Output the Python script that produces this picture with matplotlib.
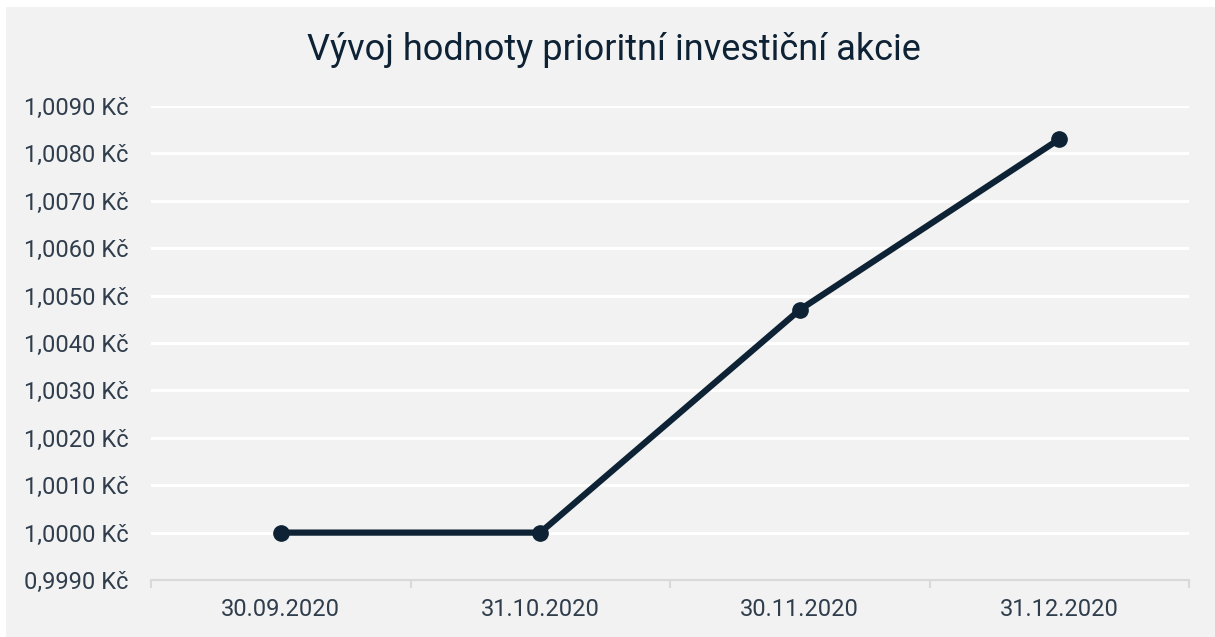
import matplotlib.pyplot as plt
from matplotlib.patches import Rectangle

dates = ['30.09.2020', '31.10.2020', '30.11.2020', '31.12.2020']
values = [1.0000, 1.0000, 1.0047, 1.0083]
y_ticks = [0.9990, 1.0000, 1.0010, 1.0020, 1.0030, 1.0040,
           1.0050, 1.0060, 1.0070, 1.0080, 1.0090]

W, H = 1215, 637
fig = plt.figure(figsize=(W / 100, H / 100), dpi=100)
fig.patch.set_facecolor('white')
# gray panel (white strip at top and left)
fig.patches.append(Rectangle((6 / W, 0), 1 - 6 / W, 1 - 7 / H,
                             transform=fig.transFigure, facecolor='#f2f2f2',
                             edgecolor='none', zorder=-5))

ax = fig.add_axes([151 / W, 1 - 580 / H, (1189 - 151) / W, (580 - 106) / H])
ax.set_facecolor('none')

dark = '#0e2235'
text_col = '#2f3d4c'

x = list(range(len(dates)))
ax.plot(x, values, color=dark, lw=4.5, marker='o', ms=11, zorder=3,
        solid_capstyle='round')

ax.set_xlim(-0.5, len(dates) - 0.5)
ax.set_ylim(y_ticks[0], y_ticks[-1])
ax.set_yticks(y_ticks)
ax.set_yticklabels([f'{v:.4f}'.replace('.', ',') + ' Kč' for v in y_ticks])
ax.set_xticks(x)
ax.set_xticklabels(dates)
ax.set_xticks([i - 0.5 for i in range(len(dates) + 1)], minor=True)

ax.grid(axis='y', color='white', lw=2.2, zorder=1)
for s in ['top', 'right', 'left']:
    ax.spines[s].set_visible(False)
ax.spines['bottom'].set_color('#d9d9d9')
ax.spines['bottom'].set_linewidth(1.5)
ax.spines['bottom'].set_zorder(2)

ax.tick_params(axis='y', length=0, pad=16, labelsize=17, labelcolor=text_col)
ax.tick_params(axis='x', which='major', length=0, pad=13, labelsize=17,
               labelcolor=text_col)
ax.tick_params(axis='x', which='minor', length=6, width=1.5, color='#d9d9d9')
for lab in ax.get_xticklabels() + ax.get_yticklabels():
    lab.set_family(['Roboto', 'DejaVu Sans'])

fig.text(0.505, 1 - 50 / H, 'Vývoj hodnoty prioritní investiční akcie',
         ha='center', va='center', fontsize=26, color=dark,
         family=['Roboto', 'DejaVu Sans'])

fig.savefig('out.png', dpi=100)
